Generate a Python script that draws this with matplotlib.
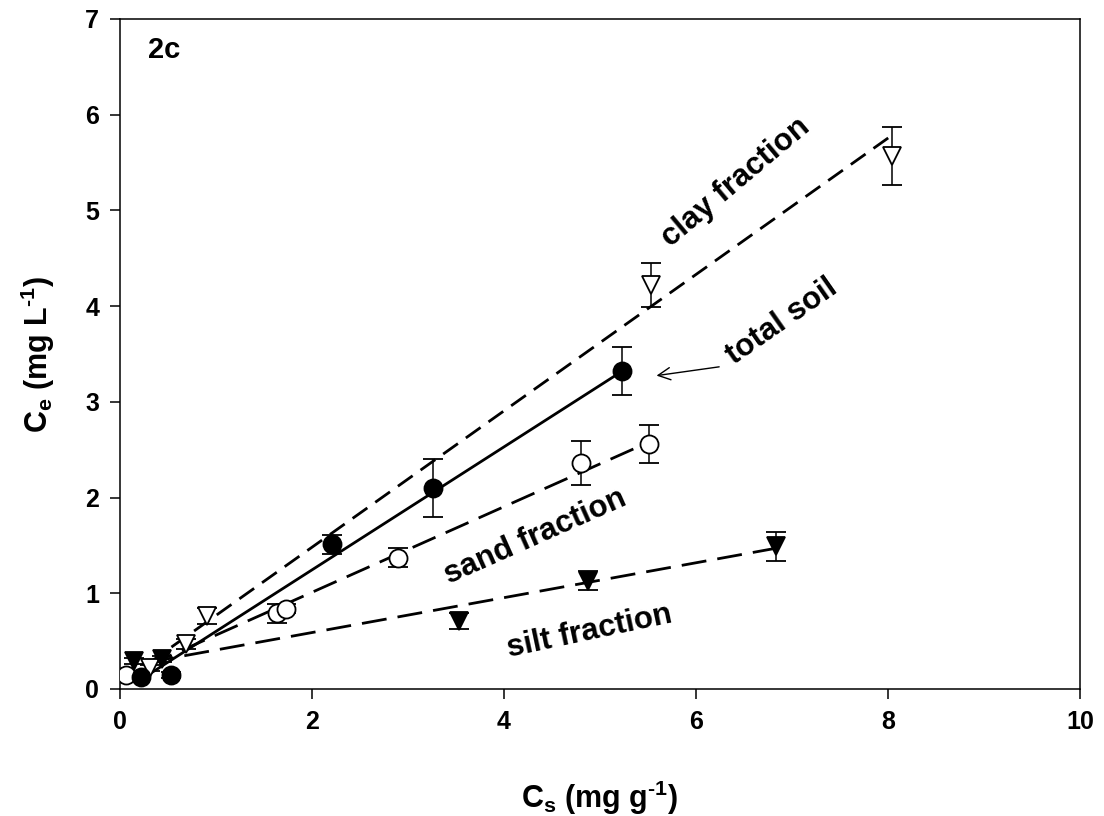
import matplotlib
matplotlib.use("Agg")
import matplotlib.pyplot as plt

plt.rcParams['font.family'] = ['Liberation Sans', 'DejaVu Sans']
plt.rcParams['font.weight'] = 'bold'
plt.rcParams['mathtext.default'] = 'regular'

# total soil (filled circles)
total_x = [0.22, 0.53, 2.21, 3.26, 5.23]
total_y = [0.13, 0.15, 1.51, 2.10, 3.32]
total_err = [0.03, 0.03, 0.10, 0.30, 0.25]
total_fit_x = [0.25, 5.23]
total_fit_y = [0.12, 3.32]

# clay fraction (open down triangles)
clay_x = [0.31, 0.69, 0.91, 5.53, 8.04]
clay_y = [0.22, 0.47, 0.76, 4.22, 5.57]
clay_err = [0.03, 0.05, 0.085, 0.23, 0.30]
clay_fit_x = [0.30, 8.02]
clay_fit_y = [0.27, 5.77]

# sand fraction (open circles)
sand_x = [0.06, 1.64, 1.73, 2.90, 4.80, 5.51]
sand_y = [0.15, 0.79, 0.84, 1.37, 2.36, 2.56]
sand_err = [0.02, 0.10, 0.05, 0.10, 0.23, 0.20]
sand_fit_x = [0.30, 5.51]
sand_fit_y = [0.25, 2.58]

# silt fraction (filled down triangles)
silt_x = [0.15, 0.44, 3.53, 4.88, 6.83]
silt_y = [0.29, 0.31, 0.71, 1.13, 1.49]
silt_err = [0.03, 0.03, 0.085, 0.10, 0.15]
silt_fit_x = [0.30, 6.83]
silt_fit_y = [0.28, 1.47]

fig = plt.figure(figsize=(11.04, 8.16), dpi=100)
ax = fig.add_axes([120 / 1104, 1 - 689 / 816, 960 / 1104, 670 / 816])

lw = 2.0
# fitted lines
ax.plot(clay_fit_x, clay_fit_y, color='black', lw=lw, dashes=(6.5, 3.5), zorder=2)
ax.plot(total_fit_x, total_fit_y, color='black', lw=lw, zorder=2)
ax.plot(sand_fit_x, sand_fit_y, color='black', lw=lw, dashes=(9, 4), zorder=2)
ax.plot(silt_fit_x, silt_fit_y, color='black', lw=lw, dashes=(9, 4), zorder=2)

eb = dict(ls='none', ecolor='black', elinewidth=1.1, capsize=7, capthick=1.1,
          markeredgecolor='black', markeredgewidth=1.3, zorder=3)
ax.errorbar(clay_x, clay_y, yerr=clay_err, marker='v', ms=13,
            markerfacecolor='white', **eb)
ax.errorbar(silt_x, silt_y, yerr=silt_err, marker='v', ms=13,
            markerfacecolor='black', **eb)
ax.errorbar(sand_x, sand_y, yerr=sand_err, marker='o', ms=13,
            markerfacecolor='white', **eb)
ax.errorbar(total_x, total_y, yerr=total_err, marker='o', ms=13,
            markerfacecolor='black', **eb)

ax.set_xlim(0, 10)
ax.set_ylim(0, 7)
ax.set_xticks([0, 2, 4, 6, 8, 10])
ax.set_yticks(range(0, 8))
ax.tick_params(direction='out', length=7, width=1.1, labelsize=18, pad=8)
for s in ax.spines.values():
    s.set_linewidth(1.1)

ax.set_xlabel('C$_s$ (mg g$^{\u2010 1}$)', fontsize=22, fontweight='bold', labelpad=32)
ax.set_ylabel('C$_e$ (mg L$^{\u2010 1}$)', fontsize=22, fontweight='bold', labelpad=20)

tfs = 22.5
ax.text(0.46, 6.68, '2c', fontsize=21, fontweight='bold', ha='center', va='center')
ax.text(6.41, 5.29, 'clay fraction', fontsize=tfs, fontweight='bold', rotation=40,
        ha='center', va='center', rotation_mode='anchor')
ax.text(6.90, 3.84, 'total soil', fontsize=tfs, fontweight='bold', rotation=35,
        ha='center', va='center', rotation_mode='anchor')
ax.text(4.33, 1.59, 'sand fraction', fontsize=tfs, fontweight='bold', rotation=24,
        ha='center', va='center', rotation_mode='anchor')
ax.text(4.89, 0.60, 'silt fraction', fontsize=tfs, fontweight='bold', rotation=12,
        ha='center', va='center', rotation_mode='anchor')

ax.annotate('', xy=(5.56, 3.27), xytext=(6.27, 3.37),
            arrowprops=dict(arrowstyle='->', color='black', lw=1.0,
                            mutation_scale=22))

fig.savefig('out.png', dpi=100)
